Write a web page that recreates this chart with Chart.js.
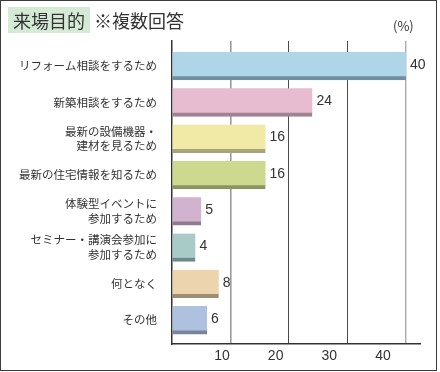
<!DOCTYPE html>
<html lang="ja">

<head>
    <meta charset="UTF-8">
    <title>来場目的</title>
    <script src="https://cdn.jsdelivr.net/npm/chart.js"></script>
    <style>
        body {
            margin: 0;
            background: #fff;
        }

        .wrap {
            position: relative;
            width: 440px;
            height: 372px;
            font-family: "Noto Sans CJK JP", sans-serif;
            color: #333;
        }

        .frame {
            position: absolute;
            left: 0;
            top: 0;
            width: 437px;
            height: 371px;
            box-sizing: border-box;
            border: 1.5px solid #3c3c3c;
            pointer-events: none;
        }

        .title {
            position: absolute;
            left: 8px;
            top: 7px;
            font-size: 18px;
            line-height: 26px;
            white-space: nowrap;
        }

        .title .tag {
            background: #d5ead6;
            padding: 0 5px;
        }

        .unit {
            position: absolute;
            left: 393px;
            top: 16px;
            font-size: 13px;
        }

        canvas {
            position: absolute;
            left: 0;
            top: 0;
        }
    </style>
</head>

<body>
    <div class="wrap">
        <canvas id="purposeChart" width="440" height="372"></canvas>
        <div class="title"><span class="tag">来場目的</span> ※複数回答</div>
        <div class="unit">(%)</div>
        <div class="frame"></div>
    </div>

    <script>
        // data
        const categories = [
            ['リフォーム相談をするため'],
            ['新築相談をするため'],
            ['最新の設備機器・', '建材を見るため'],
            ['最新の住宅情報を知るため'],
            ['体験型イベントに', '参加するため'],
            ['セミナー・講演会参加に', '参加するため'],
            ['何となく'],
            ['その他']
        ];
        const percents = [40, 24, 16, 16, 5, 4, 8, 6];
        const gridTicks = [0, 10, 20, 30, 40];
        const tickLabels = [10, 20, 30, 40];

        const fillColors = ['#aed5e8', '#e7bbd0', '#f1eaa6', '#cdd98f', '#d1b2cf', '#a8cbc8', '#ecd4ae', '#aec1de'];
        const shadeColors = ['#6f8f9c', '#a08291', '#a9a47b', '#8a9561', '#8f7a8e', '#6e8987', '#a08c72', '#778499'];
        const gridColors = { 0: 'rgba(0,0,0,0)', 10: '#9a9a9a', 20: '#4a4a4a', 30: '#4a4a4a', 40: '#ababab' };
        const gridWidths = { 0: 1, 10: 1.6, 20: 1, 30: 1, 40: 1.4 };

        // value labels at the end of each bar
        const valueLabels = {
            id: 'valueLabels',
            afterDatasetsDraw(chart) {
                const ctx = chart.ctx;
                const meta = chart.getDatasetMeta(0);
                ctx.save();
                ctx.font = '14px "Liberation Sans", Arial, sans-serif';
                ctx.fillStyle = '#333';
                ctx.textAlign = 'left';
                ctx.textBaseline = 'middle';
                meta.data.forEach((bar, i) => {
                    ctx.fillText(percents[i], bar.x + 4, bar.y - 1);
                });
                ctx.restore();
            }
        };

        new Chart(document.getElementById('purposeChart'), {
            type: 'bar',
            data: {
                datasets: [{
                    data: percents.map((v, i) => ({ x: v, y: i })),
                    backgroundColor: fillColors,
                    borderColor: shadeColors,
                    borderWidth: { top: 0, right: 0, left: 0, bottom: 4 },
                    borderSkipped: false,
                    barThickness: 28
                }]
            },
            options: {
                indexAxis: 'y',
                responsive: false,
                animation: false,
                layout: { padding: { top: 41, right: 20, bottom: 8, left: 0 } },
                plugins: {
                    legend: { display: false },
                    tooltip: { enabled: false }
                },
                scales: {
                    y: {
                        type: 'linear',
                        reverse: true,
                        offset: false,
                        min: -0.69,
                        max: 7.66,
                        afterBuildTicks: s => { s.ticks = categories.map((_, i) => ({ value: i })); },
                        afterFit: s => { s.width = 172; },
                        grid: { display: false, offset: false },
                        border: { color: '#333', width: 1.5 },
                        ticks: {
                            autoSkip: false,
                            padding: 7,
                            color: '#333',
                            font: { family: '"Noto Sans CJK JP", sans-serif', size: 11.5, lineHeight: 1.3 },
                            callback: v => categories[v]
                        }
                    },
                    x: {
                        min: 0,
                        max: 42.4,
                        afterBuildTicks: s => { s.ticks = gridTicks.map(v => ({ value: v })); },
                        afterFit: s => { s.height = 0; },
                        grid: {
                            drawTicks: false,
                            color: c => gridColors[c.tick.value],
                            lineWidth: c => gridWidths[c.tick.value]
                        },
                        border: { color: '#333', width: 1.6 },
                        ticks: { display: false }
                    },
                    // tick numbers sit a little left of their grid lines in the original
                    xLabels: {
                        axis: 'x',
                        position: 'bottom',
                        min: 0.69,
                        max: 46.9,
                        afterBuildTicks: s => { s.ticks = tickLabels.map(v => ({ value: v })); },
                        afterFit: s => { s.height = 20; },
                        grid: { display: false },
                        border: { display: false },
                        ticks: {
                            padding: -4,
                            color: '#333',
                            font: { family: '"Liberation Sans", Arial, sans-serif', size: 14 }
                        }
                    }
                }
            },
            plugins: [valueLabels]
        });
    </script>
</body>

</html>
